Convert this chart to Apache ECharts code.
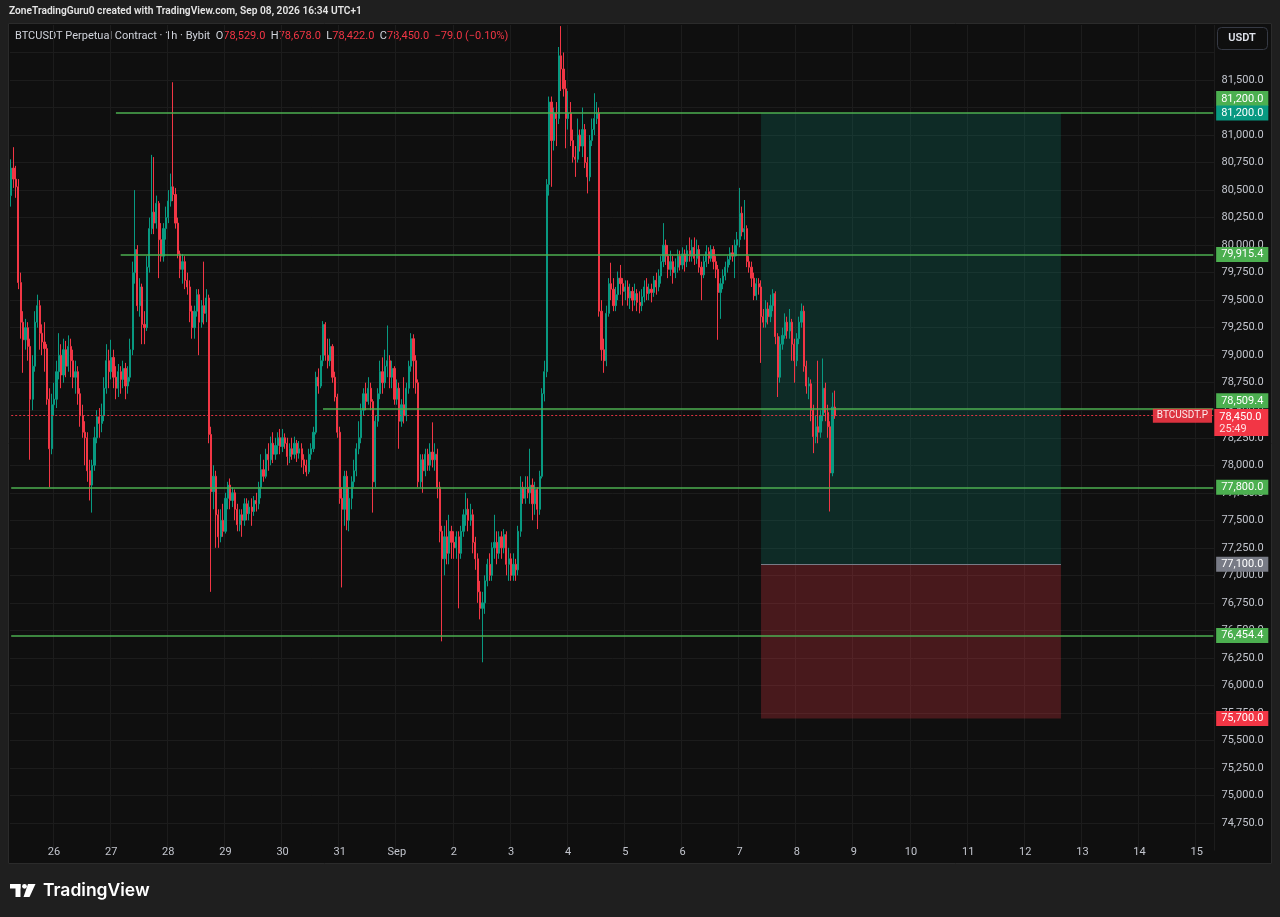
<!DOCTYPE html>
<html>
<head>
<meta charset="utf-8">
<script src="https://cdn.jsdelivr.net/npm/echarts@6/dist/echarts.min.js"></script>
<style>
html,body{margin:0;padding:0;background:#0f0f0f;}
#chart{width:1280px;height:917px;}
</style>
</head>
<body>
<div id="chart"></div>
<script>
// ---------------- DATA ----------------
// hourly time slots of the axis (first slot, number of slots shown incl. empty future space)
const firstSlotUTC = [2026, 7, 25, 6];   // 2026-08-25 06:00
const slotCount = 506;

const opens = [
80450,80700,80600,80530,79660,79300,79140,79250,79080,78600,
78900,79300,79450,79200,79120,79060,78600,78150,78550,78600,
78850,79000,78820,79050,78900,79080,78950,78800,78850,78650,
78450,78300,78250,77950,77820,78000,78250,78440,78380,78450,
78700,78950,78850,78980,78800,78700,78850,78780,78880,78720,
78800,79050,79750,79960,79450,79620,79280,79250,79800,80150,
80300,80200,80380,80050,79900,80150,80250,80400,80530,80460,
80200,79920,79780,79850,79680,79620,79400,79250,79400,79550,
79300,79450,79380,79520,78280,77760,77900,77550,77350,77500,
77400,77700,77820,77680,77750,77600,77460,77550,77500,77650,
77560,77620,77580,77680,77650,77800,77960,77900,78100,78050,
78200,78100,78180,78250,78170,78250,78200,78080,78150,78100,
78200,78110,78150,78050,78000,77940,78100,78150,78300,78800,
78720,78950,79280,79000,78950,79080,78800,78620,78300,77700,
77600,77900,77500,77700,77850,77950,78150,78250,78500,78650,
78580,78700,78580,77850,78400,78650,78850,78750,78900,78950,
78800,78880,78600,78700,78400,78550,78450,78700,78900,79150,
78950,78750,77850,78050,77950,78100,78000,78120,78050,78100,
77800,77400,77150,77350,77200,77400,77300,77250,77350,77200,
77400,77550,77600,77500,77550,77300,77150,76850,76700,76750,
76950,77100,77000,77250,77300,77200,77350,77250,77370,77100,
77150,77000,77100,77050,77400,77800,77700,77800,77750,77820,
77650,77780,77600,77900,78650,78850,80550,81300,80950,81200,
81150,81720,81600,81420,81150,81200,80950,80800,80780,81000,
80900,81050,80750,80620,80950,81050,81150,81200,79400,79050,
78950,79380,79650,79600,79450,79550,79700,79650,79580,79620,
79520,79580,79500,79560,79480,79450,79530,79620,79560,79600,
79570,79680,79620,79720,79850,80000,79900,79780,79850,79750,
79800,79900,79820,79920,79850,79950,79900,79980,79880,79960,
79800,79730,79850,79940,79880,79960,79850,79780,79570,79650,
79720,79800,79870,79930,79900,80000,80050,80290,80120,80150,
79850,79800,79700,79540,79650,79620,79350,79300,79420,79350,
79450,79560,79170,78800,79100,79180,79300,79220,79300,79100,
78950,79150,79300,79400,78900,78720,78740,78500,78260,78350,
78300,78450,78700,78480,78350,77930,78529];

const highs = [
80780,80890,80720,80600,79750,79400,79330,79300,79150,79000,
79400,79550,79500,79280,79300,79100,78700,78650,78750,78950,
79200,79100,79150,79130,79180,79150,79050,78950,78900,78700,
78550,78400,78300,78050,78050,78350,78500,78520,78560,78800,
79100,79050,79140,79050,78900,78920,78900,78950,78930,78900,
79150,79850,80500,80000,79700,79650,79400,79900,80250,80820,
80800,80450,80400,80200,80200,80350,80500,80650,81480,80520,
80250,79950,79920,79900,79750,79680,79450,79450,79600,79600,
79500,79850,79600,79550,78350,78000,77950,77600,77600,77650,
77750,77850,77880,77800,77780,77650,77600,77600,77700,77700,
77680,77700,77720,77750,77850,78100,78050,78150,78200,78260,
78300,78250,78300,78330,78330,78290,78250,78200,78250,78260,
78230,78220,78200,78100,78050,78150,78200,78350,78850,78880,
79000,79310,79300,79150,79150,79100,78850,78650,78350,77800,
77950,77950,77800,77900,78050,78200,78400,78560,78700,78750,
78800,78750,78600,78450,78700,78950,78980,79050,79270,79000,
78950,78900,78780,78750,78600,78800,78750,78950,79200,79190,
79000,78780,78100,78100,78150,78150,78200,78390,78200,78150,
77850,77450,77450,77500,77550,77450,77400,77400,77400,77450,
77600,77750,77700,77650,77600,77350,77200,76950,76850,77000,
77150,77200,77300,77550,77400,77400,77400,77420,77400,77250,
77200,77200,77150,77450,77900,77850,77900,77900,78150,77880,
77850,77800,77950,78700,78950,80600,81350,81350,81250,81300,
81800,81990,81750,81500,81400,81300,81050,80900,81150,81050,
81250,81100,80800,81000,81150,81380,81300,81250,79500,79150,
79450,79700,79840,79700,79620,79760,79820,79700,79680,79680,
79650,79620,79650,79600,79580,79600,79680,79700,79650,79650,
79720,79750,79780,79900,80200,80050,80000,79950,79900,79880,
79960,79950,79980,79960,80000,80070,80050,80070,80050,80000,
79850,79900,80000,79980,80000,79990,79900,79820,79700,79780,
79850,79900,79980,80000,80050,80120,80520,80350,80410,80180,
79900,79850,79750,79700,79700,79680,79420,79500,79480,79550,
79600,79580,79200,79170,79250,79380,79350,79420,79330,79150,
79200,79350,79470,79450,78950,78800,78780,78550,78450,78950,
78500,78970,78750,78550,78400,78660,78678];

const lows = [
80350,80520,80430,79600,79150,78840,79050,78950,78050,78500,
78850,79250,79050,79000,78850,78550,77800,78100,78450,78520,
78780,78700,78750,78800,78850,78800,78700,78650,78550,78350,
78250,78000,77850,77680,77570,77950,78200,78250,78300,78400,
78650,78700,78780,78700,78600,78620,78650,78700,78600,78650,
78760,79000,79650,79400,79350,79100,79100,79220,79750,80100,
80100,80150,79700,79850,79850,80050,80200,80350,80400,80150,
79880,79700,79650,79600,79550,79300,79150,79150,79350,79000,
79250,79280,79300,78200,76850,77600,77250,77250,77300,77350,
77380,77600,77600,77620,77500,77400,77400,77350,77450,77500,
77500,77450,77540,77580,77600,77700,77850,77880,77950,78000,
78020,78050,78100,78100,78120,78150,78000,78020,78050,78060,
78030,78060,77980,77920,77900,77920,78050,78120,78280,78650,
78700,78900,78950,78880,78900,78750,78580,78250,77650,76890,
77450,77410,77400,77600,77800,77900,78100,78200,78450,78500,
78550,78500,77570,77800,78350,78600,78650,78700,78800,78700,
78700,78550,78550,78150,78350,78380,78400,78650,78850,78700,
78650,77800,77800,77750,77900,77950,77950,77980,77950,77700,
77300,76400,77000,77100,77100,77150,77150,77150,76700,77150,
77350,77450,77400,77450,77200,77050,76750,76600,76210,76650,
76900,76950,76950,77150,77100,77150,77150,77200,77000,76950,
76950,76950,76950,77000,77350,77650,77650,77700,77650,77500,
77550,77420,77550,77880,78580,78800,80450,80530,80860,80900,
81100,81400,81350,80880,81050,80900,80750,80620,80750,80850,
80800,80700,80470,80580,80900,81000,81100,79350,78950,78840,
78900,79350,79500,79400,79400,79500,79550,79450,79500,79450,
79420,79400,79450,79400,79380,79400,79480,79500,79500,79480,
79530,79550,79580,79650,79800,79820,79700,79720,79650,79700,
79750,79770,79780,79760,79800,79850,79850,79820,79830,79750,
79500,79700,79800,79830,79850,79780,79700,79140,79330,79600,
79680,79750,79820,79850,79700,79900,79980,80080,80050,79800,
79750,79620,79500,79500,79550,78930,79250,79250,79280,79300,
79400,79100,78620,78750,79050,79150,79150,79150,78950,78750,
78900,79100,79250,78850,78650,78600,78400,78110,78200,78200,
78250,78400,78400,78250,77580,77900,78422];

const closes = [
80700,80600,80530,79660,79300,79140,79250,79080,78600,78900,
79300,79450,79200,79120,79060,78600,78150,78550,78600,78850,
79000,78820,79050,78900,79080,78950,78800,78850,78650,78450,
78300,78250,77950,77820,78000,78250,78440,78380,78450,78700,
78950,78850,78980,78800,78700,78850,78780,78880,78720,78800,
79050,79750,79960,79450,79620,79280,79250,79800,80150,80300,
80200,80380,80050,79900,80150,80250,80400,80530,80460,80200,
79920,79780,79850,79680,79620,79400,79250,79400,79550,79300,
79450,79380,79520,78280,77760,77900,77550,77350,77500,77400,
77700,77820,77680,77750,77600,77460,77550,77500,77650,77560,
77620,77580,77680,77650,77800,77960,77900,78100,78050,78200,
78100,78180,78250,78170,78250,78200,78080,78150,78100,78200,
78110,78150,78050,78000,77940,78100,78150,78300,78800,78720,
78950,79280,79000,78950,79080,78800,78620,78300,77700,77600,
77900,77500,77700,77850,77950,78150,78250,78500,78650,78580,
78700,78580,77850,78400,78650,78850,78750,78900,78950,78800,
78880,78600,78700,78400,78550,78450,78700,78900,79150,78950,
78750,77850,78050,77950,78100,78000,78120,78050,78100,77800,
77400,77150,77350,77200,77400,77300,77250,77350,77200,77400,
77550,77600,77500,77550,77300,77150,76850,76700,76750,76950,
77100,77000,77250,77300,77200,77350,77250,77370,77100,77150,
77000,77100,77050,77400,77800,77700,77800,77750,77820,77650,
77780,77600,77900,78650,78850,80550,81300,80950,81200,81150,
81720,81600,81420,81150,81200,80950,80800,80780,81000,80900,
81050,80750,80620,80950,81050,81150,81200,79400,79050,78950,
79380,79650,79600,79450,79550,79700,79650,79580,79620,79520,
79580,79500,79560,79480,79450,79530,79620,79560,79600,79570,
79680,79620,79720,79850,80000,79900,79780,79850,79750,79800,
79900,79820,79920,79850,79950,79900,79980,79880,79960,79800,
79730,79850,79940,79880,79960,79850,79780,79570,79650,79720,
79800,79870,79930,79900,80000,80050,80290,80120,80150,79850,
79800,79700,79540,79650,79620,79350,79300,79420,79350,79450,
79560,79170,78800,79100,79180,79300,79220,79300,79100,78950,
79150,79300,79400,78900,78720,78740,78500,78260,78350,78300,
78450,78700,78480,78350,77930,78529,78450];

// horizontal levels drawn on the chart (price, start time)
const levelPrices = [81200, 79915.4, 78509.4, 77800, 76454.4];
const levelStarts = ['2026-08-27 02:00', '2026-08-27 04:00', '2026-08-30 17:00', '2026-08-25 06:00', '2026-08-25 06:00'];

// long position tool
const posStart = '2026-09-07 09:00';
const posEnd = '2026-09-12 15:00';
const posTarget = 81200;
const posEntry = 77100;
const posStop = 75700;

const symbolName = 'BTCUSDT.P';
const countdown = '25:49';
const headerTitle = 'BTCUSDT Perpetual Contract · 1h · Bybit';
const pageTitle = 'ZoneTradingGuru0 created with TradingView.com, Sep 08, 2026 16:34 UTC+1';

// ---------------- BUILD ----------------
const pad = n => String(n).padStart(2, '0');
const categories = [];
const t0 = Date.UTC(firstSlotUTC[0], firstSlotUTC[1], firstSlotUTC[2], firstSlotUTC[3]);
for (let i = 0; i < slotCount; i++) {
  const d = new Date(t0 + i * 3600e3);
  categories.push(d.getUTCFullYear() + '-' + pad(d.getUTCMonth() + 1) + '-' + pad(d.getUTCDate()) + ' ' + pad(d.getUTCHours()) + ':00');
}
const firstCat = categories[0];
const lastCat = categories[categories.length - 1];
const candles = closes.map((c, i) => [opens[i], c, lows[i], highs[i]]);

const fmt = v => {
  const s = Math.abs(v).toFixed(1);
  const parts = s.split('.');
  return (v < 0 ? '−' : '') + parts[0].replace(/\B(?=(\d{3})+(?!\d))/g, ',') + '.' + parts[1];
};
const pctFmt = v => (v < 0 ? '−' : '') + Math.abs(v).toFixed(2) + '%';

const UP = '#089981', DOWN = '#f23645', LEVEL = '#4caf50', GREY = '#787b86';
const FONT = 'Roboto, "Noto Sans", sans-serif';
const isMidnight = (idx, val) => (typeof val === 'string' ? val : categories[idx]).endsWith(' 00:00');
const months = ['Jan','Feb','Mar','Apr','May','Jun','Jul','Aug','Sep','Oct','Nov','Dec'];
const dayLabel = v => {
  const day = parseInt(v.slice(8, 10), 10);
  return day === 1 ? months[parseInt(v.slice(5, 7), 10) - 1] : String(day);
};

function tag(text, bg, pos, dy, extra) {
  return Object.assign({
    show: true, position: pos, distance: [-55, dy], formatter: text,
    color: '#ffffff', backgroundColor: bg, padding: [2, 5, 1, 5],
    fontSize: 11, fontFamily: FONT, lineHeight: 12
  }, extra || {});
}
const hidden = { color: 'rgba(0,0,0,0)', width: 1, type: 'solid' };

const markLines = [];
levelPrices.forEach((p, i) => {
  const pos = (i === 0 || i === 2) ? 'insideEndTop' : 'insideEnd';
  const dy = i === 0 ? 7 : (i === 2 ? 1 : 0);
  markLines.push([
    { coord: [levelStarts[i], p], lineStyle: { color: LEVEL, width: 1.5, type: 'solid' }, label: tag(fmt(p), LEVEL, pos, dy) },
    { coord: [lastCat, p] }
  ]);
});
// position tool: entry line and price tags
markLines.push([{ coord: [posStart, posEntry], lineStyle: { color: GREY, width: 1, type: 'solid' }, label: { show: false } }, { coord: [posEnd, posEntry] }]);
markLines.push([{ coord: [posEnd, posTarget], lineStyle: hidden, label: tag(fmt(posTarget), UP, 'insideEnd', 0) }, { coord: [lastCat, posTarget] }]);
markLines.push([{ coord: [posEnd, posEntry], lineStyle: hidden, label: tag(fmt(posEntry), GREY, 'insideEnd', 0) }, { coord: [lastCat, posEntry] }]);
markLines.push([{ coord: [posEnd, posStop], lineStyle: hidden, label: tag(fmt(posStop), DOWN, 'insideEnd', 0) }, { coord: [lastCat, posStop] }]);
// last price line
const lastClose = closes[closes.length - 1];
markLines.push([
  { coord: [firstCat, lastClose], lineStyle: { color: DOWN, width: 1, type: [2, 2], opacity: 0.9 },
    label: { show: true, position: 'insideEnd', distance: [1.3, 0], formatter: symbolName, color: '#fff', backgroundColor: DOWN, padding: [2, 4, 1, 4], fontSize: 10, fontFamily: FONT, lineHeight: 11 } },
  { coord: [lastCat, lastClose] }
]);
markLines.push([
  { coord: [posEnd, lastClose], lineStyle: hidden,
    label: tag('{p|' + fmt(lastClose) + '}\n{q|' + countdown + '}', DOWN, 'insideEndBottom', -6.7,
      { rich: { p: { width: 44, align: 'left', color: '#fff', fontSize: 11, fontFamily: FONT, lineHeight: 12 },
                q: { width: 44, align: 'left', color: '#ffe0e3', fontSize: 11, fontFamily: FONT, lineHeight: 12 } } }) },
  { coord: [lastCat, lastClose] }
]);

// header values from last candle
const n = closes.length;
const chg = closes[n - 1] - closes[n - 2];
const chgPct = chg / closes[n - 2] * 100;
const headerText = '{w|' + headerTitle + '}  {w|O}{r|' + fmt(opens[n - 1]) + '}  {w|H}{r|' + fmt(highs[n - 1]) +
  '}  {w|L}{r|' + fmt(lows[n - 1]) + '}  {w|C}{r|' + fmt(closes[n - 1]) + '}  {r|' + fmt(chg) + ' (' + pctFmt(chgPct) + ')}';

const chart = echarts.init(document.getElementById('chart'), null, { renderer: 'canvas' });
const OUTER = '#1f1f1f';
chart.setOption({
  backgroundColor: '#0f0f0f',
  animation: false,
  textStyle: { fontFamily: FONT },
  grid: { left: 10, right: 65.5, top: 25, height: 825.5, outerBoundsMode: 'none', containLabel: false },
  xAxis: {
    type: 'category', data: categories, boundaryGap: true,
    axisLine: { show: false }, axisTick: { show: false },
    axisLabel: { interval: isMidnight, formatter: dayLabel, color: '#c3c6ce', fontSize: 11, margin: 2, verticalAlign: 'middle', fontFamily: FONT },
    splitLine: { show: true, interval: isMidnight, lineStyle: { color: '#1c1c1c', width: 1 } }
  },
  yAxis: {
    type: 'value', position: 'right', min: 74500, max: 82000, interval: 250,
    axisLine: { show: false }, axisTick: { show: false },
    axisLabel: { margin: 7, color: '#c3c6ce', fontSize: 11, fontFamily: FONT,
      formatter: v => (v < 74750 || v > 81500) ? '' : fmt(v) },
    splitLine: { show: true, showMinLine: false, showMaxLine: false, lineStyle: { color: '#1c1c1c', width: 1 } }
  },
  series: [{
    type: 'candlestick',
    data: candles,
    barWidth: '70%',
    itemStyle: { color: UP, color0: DOWN, borderColor: UP, borderColor0: DOWN, borderWidth: 1 },
    markArea: {
      silent: true,
      data: [
        [{ coord: [posStart, posTarget], itemStyle: { color: 'rgba(8,153,129,0.2)' } }, { coord: [posEnd, posEntry] }],
        [{ coord: [posStart, posEntry], itemStyle: { color: 'rgba(242,54,69,0.25)' } }, { coord: [posEnd, posStop] }]
      ]
    },
    markLine: { silent: true, symbol: ['none', 'none'], data: markLines }
  }],
  graphic: [
    { type: 'rect', silent: true, shape: { x: 0, y: 0, width: 1280, height: 23 }, style: { fill: OUTER } },
    { type: 'rect', silent: true, shape: { x: 0, y: 864, width: 1280, height: 53 }, style: { fill: OUTER } },
    { type: 'rect', silent: true, shape: { x: 0, y: 23, width: 8, height: 841 }, style: { fill: OUTER } },
    { type: 'rect', silent: true, shape: { x: 1272, y: 23, width: 8, height: 841 }, style: { fill: OUTER } },
    { type: 'rect', silent: true, shape: { x: 8.5, y: 23.5, width: 1263, height: 840 }, style: { fill: 'none', stroke: '#2b2b2b', lineWidth: 1 } },
    { type: 'text', silent: true, x: 9, y: 11.5, style: { text: pageTitle, fill: '#e6e6e6', font: '600 10.2px ' + FONT, verticalAlign: 'middle' } },
    { type: 'text', silent: true, x: 15, y: 36, style: { text: headerText, verticalAlign: 'middle', font: '11px ' + FONT,
      rich: { w: { fill: '#d1d4dc', fontSize: 11, fontFamily: FONT }, r: { fill: DOWN, fontSize: 11, fontFamily: FONT } } } },
    { type: 'rect', silent: true, shape: { x: 1217.5, y: 27.5, width: 50, height: 22, r: 4 }, style: { fill: 'none', stroke: '#363a45', lineWidth: 1 } },
    { type: 'text', silent: true, x: 1242, y: 38.5, style: { text: 'USDT', fill: '#e0e3eb', font: '600 11px ' + FONT, align: 'center', verticalAlign: 'middle' } },
    { type: 'rect', silent: true, shape: { x: 10, y: 884, width: 10.5, height: 4.5 }, style: { fill: '#ffffff' } },
    { type: 'rect', silent: true, shape: { x: 15.5, y: 884, width: 5, height: 13 }, style: { fill: '#ffffff' } },
    { type: 'circle', silent: true, shape: { cx: 24.5, cy: 886.3, r: 2.4 }, style: { fill: '#ffffff' } },
    { type: 'polygon', silent: true, shape: { points: [[28, 884], [35.5, 884], [29.5, 897], [23.5, 897]] }, style: { fill: '#ffffff' } },
    { type: 'text', silent: true, x: 43, y: 891, style: { text: 'TradingView', fill: '#ffffff', font: '600 17.5px Inter, ' + FONT, verticalAlign: 'middle' } }
  ]
});
</script>
</body>
</html>
